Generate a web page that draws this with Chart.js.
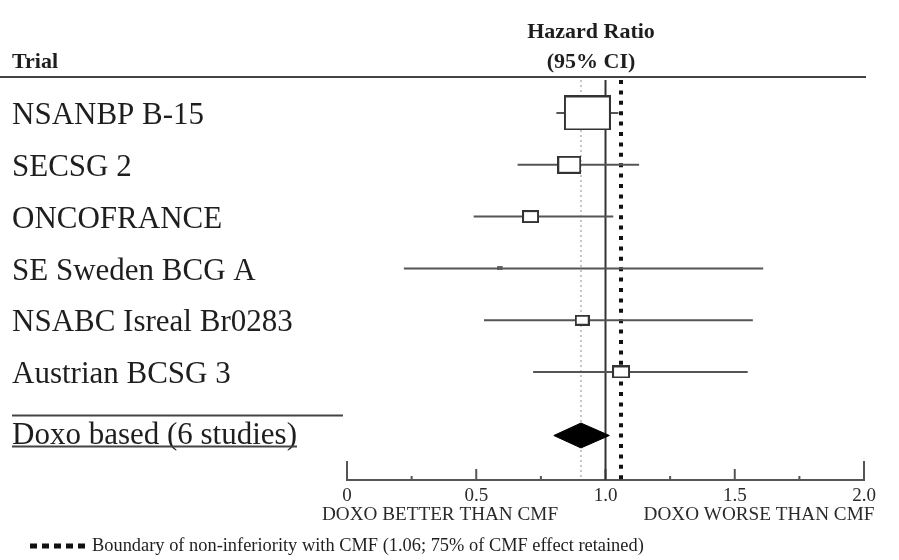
<!DOCTYPE html>
<html>
<head>
<meta charset="utf-8">
<script src="https://cdn.jsdelivr.net/npm/chart.js@4.4.1/dist/chart.umd.min.js"></script>
<style>
  html, body { margin: 0; padding: 0; background: #ffffff; }
  #wrap { width: 899px; height: 560px; }
</style>
</head>
<body>
<div id="wrap"><canvas id="c" width="899" height="560"></canvas></div>
<script>
// ---- data ----
const trials = ['NSANBP B-15', 'SECSG 2', 'ONCOFRANCE', 'SE Sweden BCG A', 'NSABC Isreal Br0283', 'Austrian BCSG 3'];
const hazardRatio = [0.93, 0.86, 0.71, 0.59, 0.91, 1.06];
const ciLow = [0.81, 0.66, 0.49, 0.22, 0.53, 0.72];
const ciHigh = [1.05, 1.13, 1.03, 1.61, 1.57, 1.55];
const studyWeight = [37, 19, 13, 5, 12, 14];
const summaryLabel = 'Doxo based (6 studies)';
const summaryEstimate = [0.80, 0.905, 1.015]; // low, HR, high
const xTickValues = [0, 0.5, 1.0, 1.5, 2.0];
const xTickLabels = ['0', '0.5', '1.0', '1.5', '2.0'];
const noEffectLine = 1.0;
const nonInferiorityBoundary = 1.06;
const headerTrial = 'Trial';
const headerHR = ['Hazard Ratio', '(95% CI)'];
const sideLabels = ['DOXO BETTER THAN CMF', 'DOXO WORSE THAN CMF'];
const footnote = 'Boundary of non-inferiority with CMF (1.06; 75% of CMF effect retained)';

// ---- layout constants ----
const SERIF = '"Liberation Serif", "Times New Roman", serif';
const Y_MIN = -0.637, Y_MAX = 7.085;
const SUMMARY_ROW = trials.length + 0.226;
const DIAMOND_HALF = 0.24;

function boxImage(w) {
  const W = Math.max(5, Math.round(w * 1.27));
  const H = Math.max(4, Math.round(W * 0.74));
  const cv = document.createElement('canvas');
  cv.width = W; cv.height = H;
  const g = cv.getContext('2d');
  g.fillStyle = '#ffffff';
  g.fillRect(0, 0, W, H);
  g.strokeStyle = '#333333';
  g.lineWidth = W < 8 ? 1.5 : 2;
  g.strokeRect(1, 1, W - 2, H - 2);
  return cv;
}

const boxData = trials.map((t, i) => ({ x: hazardRatio[i], y: i }));
const boxStyles = studyWeight.map(boxImage);

const ciData = [];
trials.forEach((t, i) => {
  ciData.push({ x: ciLow[i], y: i });
  ciData.push({ x: ciHigh[i], y: i });
  ciData.push({ x: ciHigh[i], y: null });
});

const diamondData = [
  { x: summaryEstimate[0], y: SUMMARY_ROW },
  { x: summaryEstimate[1], y: SUMMARY_ROW - DIAMOND_HALF },
  { x: summaryEstimate[2], y: SUMMARY_ROW },
  { x: summaryEstimate[1], y: SUMMARY_ROW + DIAMOND_HALF },
  { x: summaryEstimate[0], y: SUMMARY_ROW }
];

function vline(x) { return [{ x: x, y: Y_MIN }, { x: x, y: Y_MAX }]; }

const decor = {
  id: 'decor',
  beforeDatasetsDraw(chart) {
    const ctx = chart.ctx;
    const xs = chart.scales.x;
    const area = chart.chartArea;
    ctx.save();
    // upward ticks on the x axis
    ctx.strokeStyle = '#555555';
    ctx.lineWidth = 2;
    for (let k = 0; k <= 8; k++) {
      const v = k * 0.25;
      const px = xs.getPixelForValue(v);
      let len = 4;
      if (k === 0 || k === 8) len = 19;
      else if (k % 2 === 0) len = 11;
      ctx.beginPath();
      ctx.moveTo(px, area.bottom);
      ctx.lineTo(px, area.bottom - len);
      ctx.stroke();
    }
    ctx.restore();
  },
  afterDraw(chart) {
    const ctx = chart.ctx;
    const ys = chart.scales.y;
    ctx.save();
    ctx.fillStyle = '#1e1e1e';
    // headers
    ctx.font = 'bold 22px ' + SERIF;
    ctx.textBaseline = 'alphabetic';
    ctx.textAlign = 'left';
    ctx.fillText(headerTrial, 12, 68);
    ctx.textAlign = 'center';
    ctx.fillText(headerHR[0], 591, 38);
    ctx.fillText(headerHR[1], 591, 68);
    // header rule
    ctx.strokeStyle = '#444444';
    ctx.lineWidth = 2;
    ctx.beginPath();
    ctx.moveTo(0, 77);
    ctx.lineTo(866, 77);
    ctx.stroke();
    // row labels
    ctx.font = '31px ' + SERIF;
    ctx.textAlign = 'left';
    ctx.textBaseline = 'middle';
    trials.forEach((t, i) => {
      ctx.fillText(t, 12, ys.getPixelForValue(i) + 3);
    });
    const sy = ys.getPixelForValue(SUMMARY_ROW);
    ctx.fillText(summaryLabel, 12, sy);
    const sw = ctx.measureText(summaryLabel).width;
    ctx.strokeStyle = '#444444';
    ctx.lineWidth = 2;
    ctx.beginPath();
    ctx.moveTo(12, sy + 11);
    ctx.lineTo(12 + sw, sy + 11);
    ctx.stroke();
    ctx.beginPath();
    ctx.moveTo(12, sy - 20);
    ctx.lineTo(343, sy - 20);
    ctx.stroke();
    // side labels
    ctx.font = '19.2px ' + SERIF;
    ctx.textAlign = 'center';
    ctx.fillStyle = '#2a2a2a';
    ctx.fillText(sideLabels[0], 440, 515);
    ctx.fillText(sideLabels[1], 759, 515);
    // footnote
    ctx.strokeStyle = '#111111';
    ctx.lineWidth = 5;
    ctx.setLineDash([7, 5]);
    ctx.beginPath();
    ctx.moveTo(30, 546);
    ctx.lineTo(90, 546);
    ctx.stroke();
    ctx.setLineDash([]);
    ctx.font = '18.4px ' + SERIF;
    ctx.textAlign = 'left';
    ctx.fillStyle = '#1e1e1e';
    ctx.fillText(footnote, 92, 546);
    ctx.restore();
  }
};

new Chart(document.getElementById('c'), {
  type: 'scatter',
  data: {
    datasets: [
      {
        label: 'Trials',
        data: boxData,
        pointStyle: boxStyles,
        pointRadius: 6,
        showLine: false
      },
      {
        label: 'Summary',
        data: diamondData,
        showLine: true,
        fill: 'shape',
        backgroundColor: '#000000',
        borderColor: '#000000',
        borderWidth: 1,
        pointRadius: 0,
        tension: 0
      },
      {
        label: '95% CI',
        data: ciData,
        showLine: true,
        spanGaps: false,
        borderColor: '#555555',
        borderWidth: 2,
        pointRadius: 0
      },
      {
        label: 'No effect',
        data: vline(noEffectLine),
        showLine: true,
        borderColor: '#333333',
        borderWidth: 2,
        pointRadius: 0
      },
      {
        label: 'Non-inferiority boundary',
        data: vline(nonInferiorityBoundary),
        showLine: true,
        borderColor: '#111111',
        borderWidth: 4,
        borderDash: [4, 6.4],
        borderCapStyle: 'butt',
        pointRadius: 0
      },
      {
        label: 'Pooled estimate',
        data: vline(summaryEstimate[1]),
        showLine: true,
        borderColor: '#b4b4b4',
        borderWidth: 1.5,
        borderDash: [2, 3],
        pointRadius: 0
      }
    ]
  },
  options: {
    responsive: false,
    animation: false,
    devicePixelRatio: 1,
    layout: { padding: { left: 347, right: 35, top: 80, bottom: 0 } },
    plugins: {
      legend: { display: false },
      tooltip: { enabled: false }
    },
    scales: {
      x: {
        type: 'linear',
        position: 'bottom',
        min: 0,
        max: 2,
        afterBuildTicks(scale) {
          scale.ticks = xTickValues.map(v => ({ value: v }));
        },
        afterFit(scale) { scale.height = 80; },
        ticks: {
          autoSkip: false,
          maxRotation: 0,
          padding: 5,
          color: '#2a2a2a',
          font: { family: SERIF, size: 19 },
          callback(value, index) { return xTickLabels[index]; }
        },
        grid: { display: true, drawOnChartArea: false, drawTicks: false },
        border: { display: true, color: '#555555', width: 2 }
      },
      y: {
        type: 'linear',
        display: false,
        reverse: true,
        min: Y_MIN,
        max: Y_MAX
      }
    }
  },
  plugins: [decor]
});
</script>
</body>
</html>
